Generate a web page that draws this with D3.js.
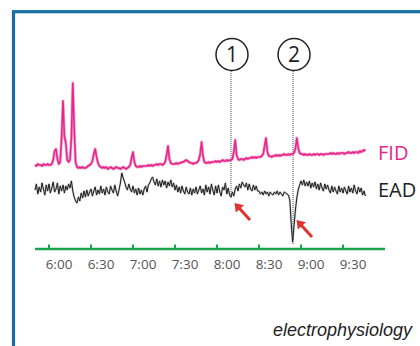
<!DOCTYPE html>
<html>
<head>
<meta charset="utf-8">
<script src="https://cdn.jsdelivr.net/npm/d3@7"></script>
<style>
  html, body { margin: 0; padding: 0; background: #fff; }
  svg { display: block; }
</style>
</head>
<body>
<svg id="chart" width="420" height="346"></svg>
<script>
// Retention time in minutes (one sample per minute, 5:50 to 9:46)
const startMinute = 350;

// Flame ionisation detector trace (arbitrary units above baseline)
const fidValues = [
  3, 2, 4, 3, 3, 2, 4, 3, 3, 4,
  3, 3, 4, 8, 17, 19, 9, 4, 6, 30,
  67, 32, 25, 8, 6, 8, 30, 85, 40, 6,
  1, 0, 1, 0, 1, 0, 0, 1, 2, 3,
  4, 7, 14, 19, 11, 5, 2, 1, 0, 1,
  0, 1, -1, 0, 1, 0, -1, 0, 1, 0,
  0, -1, 0, 1, 0, -1, 0, 1, 3, 10,
  16, 6, 2, 1, 1, 2, 1, 2, 2, 2,
  2, 3, 2, 3, 2, 3, 3, 4, 3, 4,
  4, 3, 4, 6, 13, 22, 9, 5, 4, 4,
  4, 5, 4, 5, 5, 6, 6, 7, 8, 7,
  6, 5, 5, 4, 5, 5, 6, 8, 14, 26,
  12, 6, 5, 5, 6, 5, 6, 6, 6, 7,
  6, 7, 6, 7, 8, 7, 7, 8, 7, 8,
  8, 9, 16, 28, 13, 9, 8, 9, 9, 8,
  9, 10, 9, 10, 10, 11, 10, 11, 10, 11,
  11, 11, 12, 14, 22, 30, 16, 12, 12, 11,
  12, 12, 13, 12, 13, 12, 13, 13, 14, 13,
  13, 14, 13, 14, 14, 15, 19, 30, 20, 15,
  14, 14, 13, 14, 13, 13, 14, 13, 13, 14,
  13, 14, 14, 13, 14, 14, 13, 14, 14, 14,
  14, 15, 14, 15, 14, 14, 15, 14, 15, 15,
  15, 14, 15, 15, 16, 15, 15, 16, 15, 16,
  16, 15, 17, 16, 17, 18, 17
];

// Electroantennographic detector trace (arbitrary units, 0 = resting level)
const eadValues = [
  -2, 4, -6, 1, -4, 5, -1, -7, 3, -3,
  4, -5, 0, 6, -4, -1, 5, -6, 2, -3,
  3, -5, 2, -2, 4, 0, 7, -3, -9, -13,
  -15, -9, -13, -5, -10, -3, -9, -2, -8, -4,
  -1, -8, -3, 1, -7, -2, -6, 2, -5, -1,
  -7, 1, -4, -6, 2, -2, -5, 3, -3, -8,
  -2, 5, 15, 10, 6, 1, -2, 4, -1, -4,
  2, -5, -1, -7, 0, -6, -2, -7, -1, 2,
  -4, 3, 5, 9, 11, 6, 3, 9, 2, 7,
  1, 8, 3, 7, 0, 6, 2, 8, 1, 5,
  -2, 3, -4, 1, -5, 2, -3, -6, 1, -4,
  -6, 0, -7, -1, -5, 1, -6, -2, 2, -5,
  -1, -7, 3, -4, 1, -6, 4, -2, -7, 2,
  -5, 3, -4, -8, 1, -2, 5, -6, 0, -7,
  -9, -4, -8, -1, 2, -3, 4, 0, 6, 3,
  1, 5, -2, 4, -1, -3, 3, -2, 2, -3,
  -3, -6, -4, -7, -3, -6, -4, -8, -4, -6,
  -7, -4, -6, -3, -7, -4, -6, -8, -4, -5,
  -6, -7, -12, -35, -54, -38, -22, -10, -2, 3,
  7, 3, 8, 2, 6, 2, 7, 0, 5, 1,
  6, -1, 4, -2, 5, 0, -3, 4, -1, 3,
  -2, -5, 2, -4, 1, -3, -6, 2, -4, 0,
  -5, 1, -3, -6, 2, -4, 0, -5, 3, -3,
  -6, 1, -4, 0, -7, -3, -8
];

// Axis ticks (minutes) and their labels
const tickMinutes = [360, 390, 420, 450, 480, 510, 540, 570];
const tickLabels = ["6:00", "6:30", "7:00", "7:30", "8:00", "8:30", "9:00", "9:30"];

// Antennally active compounds: marker number and retention time (minutes)
const markerIds = ["1", "2"];
const markerMinutes = [490, 534.3];
const markerEadValues = [-9, -54];

const svg = d3.select("#chart");

// Panel frame
svg.append("rect")
  .attr("x", 13.5).attr("y", 11.7)
  .attr("width", 500).attr("height", 500)
  .attr("fill", "none")
  .attr("stroke", "#1b6ea5")
  .attr("stroke-width", 3.2);

const x = d3.scaleLinear().domain([350, 600]).range([35, 385]);
const yFid = d3.scaleLinear().domain([0, 100]).range([168, 68]);
const yEad = d3.scaleLinear().domain([-60, 40]).range([248, 148]);

const fidLine = d3.line()
  .x((d, i) => x(startMinute + i))
  .y(d => yFid(d));
const eadLine = d3.line()
  .x((d, i) => x(startMinute + i))
  .y(d => yEad(d));

// Marker guides (dotted) from the numbered circles down to the EAD response
const markerG = svg.append("g");
markerMinutes.forEach((m, i) => {
  markerG.append("line")
    .attr("x1", x(m)).attr("x2", x(m))
    .attr("y1", 71).attr("y2", yEad(markerEadValues[i]) + 2)
    .attr("stroke", "#444")
    .attr("stroke-width", 1)
    .attr("stroke-dasharray", "1,1");
  markerG.append("circle")
    .attr("cx", x(m) + 1).attr("cy", 54.5)
    .attr("r", 16)
    .attr("fill", "#fff")
    .attr("stroke", "#222")
    .attr("stroke-width", 1.5);
  markerG.append("text")
    .attr("x", x(m) + 1).attr("y", 62)
    .attr("text-anchor", "middle")
    .attr("font-family", "'Open Sans', sans-serif")
    .attr("font-size", 21)
    .attr("fill", "#222")
    .text(markerIds[i]);
});

// FID trace: soft halo under a solid core for the noisy detector signal
svg.append("path")
  .datum(fidValues)
  .attr("d", fidLine)
  .attr("fill", "none")
  .attr("stroke", "#f06aae")
  .attr("stroke-width", 3)
  .attr("stroke-opacity", 0.6)
  .attr("stroke-linejoin", "round");
svg.append("path")
  .datum(fidValues)
  .attr("d", fidLine)
  .attr("fill", "none")
  .attr("stroke", "#e6288c")
  .attr("stroke-width", 1.6)
  .attr("stroke-linejoin", "round");

// EAD trace
svg.append("path")
  .datum(eadValues)
  .attr("d", eadLine)
  .attr("fill", "none")
  .attr("stroke", "#999")
  .attr("stroke-width", 2.2)
  .attr("stroke-opacity", 0.5)
  .attr("stroke-linejoin", "round");
svg.append("path")
  .datum(eadValues)
  .attr("d", eadLine)
  .attr("fill", "none")
  .attr("stroke", "#1e1e1e")
  .attr("stroke-width", 1)
  .attr("stroke-linejoin", "round");

// Trace labels
svg.append("text")
  .attr("x", 378).attr("y", 159.5)
  .attr("font-family", "'Open Sans', sans-serif")
  .attr("font-size", 20)
  .attr("fill", "#e6288c")
  .text("FID");
svg.append("text")
  .attr("x", 378).attr("y", 197)
  .attr("font-family", "'Open Sans', sans-serif")
  .attr("font-size", 20)
  .attr("fill", "#222")
  .text("EAD");

// Red arrows pointing at the antennal responses
const arrowG = svg.append("g");
markerMinutes.forEach((m, i) => {
  const tipX = x(m) + 3.5;
  const tipY = yEad(markerEadValues[i]) + (i === 0 ? 6 : -22);
  const tailX = tipX + 15.5;
  const tailY = tipY + 17;
  const ang = Math.atan2(tipY - tailY, tipX - tailX);
  const hl = 8, hw = 5.5;
  const bx = tipX - hl * Math.cos(ang), by = tipY - hl * Math.sin(ang);
  arrowG.append("line")
    .attr("x1", tailX).attr("y1", tailY)
    .attr("x2", bx + 1.5 * Math.cos(ang)).attr("y2", by + 1.5 * Math.sin(ang))
    .attr("stroke", "#e0322e")
    .attr("stroke-width", 3);
  arrowG.append("path")
    .attr("d", d3.line()([
      [tipX, tipY],
      [bx + hw * Math.sin(ang), by - hw * Math.cos(ang)],
      [bx - hw * Math.sin(ang), by + hw * Math.cos(ang)]
    ]) + "Z")
    .attr("fill", "#e0322e");
});

// Time axis
const axisG = svg.append("g").attr("transform", "translate(0,249)");
axisG.append("line")
  .attr("x1", 35).attr("x2", 385)
  .attr("stroke", "#1aa34a")
  .attr("stroke-width", 2.5);
axisG.selectAll(".tick")
  .data(tickMinutes)
  .join("line")
  .attr("class", "tick")
  .attr("x1", d => x(d)).attr("x2", d => x(d))
  .attr("y1", -4.5).attr("y2", 0)
  .attr("stroke", "#1aa34a")
  .attr("stroke-width", 2);
axisG.selectAll(".lbl")
  .data(tickMinutes)
  .join("text")
  .attr("class", "lbl")
  .attr("x", d => x(d) + 10)
  .attr("y", 20)
  .attr("text-anchor", "middle")
  .attr("font-family", "'Open Sans', sans-serif")
  .attr("font-size", 13.5)
  .attr("fill", "#555")
  .text((d, i) => tickLabels[i]);

// Caption
svg.append("text")
  .attr("x", 412).attr("y", 336)
  .attr("text-anchor", "end")
  .attr("font-family", "'Liberation Sans', Arial, sans-serif")
  .attr("font-style", "italic")
  .attr("font-size", 18)
  .attr("fill", "#222")
  .text("electrophysiology");
</script>
</body>
</html>
